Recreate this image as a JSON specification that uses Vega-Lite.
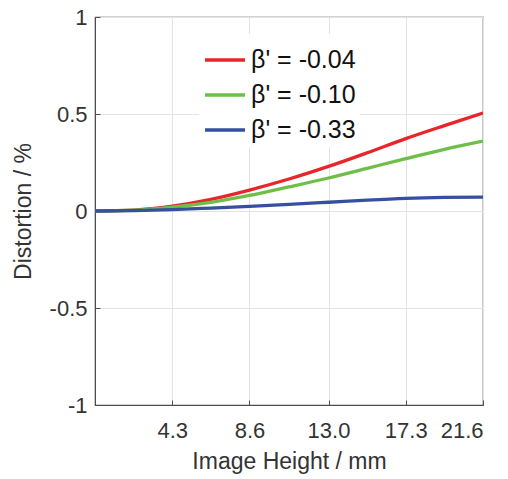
{
  "$schema": "https://vega.github.io/schema/vega-lite/v6.json",
  "width": 388,
  "height": 388,
  "autosize": {"type": "none"},
  "padding": {"left": 95, "top": 17, "right": 25, "bottom": 74},
  "background": "white",
  "config": {
    "font": "Liberation Sans",
    "view": {"stroke": "#4d4d4d", "strokeWidth": 1.2},
    "axis": {
      "domainColor": "#4d4d4d",
      "tickColor": "#4d4d4d",
      "gridColor": "#e3e3e3",
      "gridWidth": 1,
      "labelFont": "Liberation Sans",
      "titleFont": "Liberation Sans",
      "labelColor": "#333333",
      "titleColor": "#333333",
      "labelFontSize": 22,
      "titleFontSize": 23,
      "titleFontWeight": "normal",
      "tickSize": -5
    },
    "legend": {"labelFont": "Liberation Sans"}
  },
  "data": {
    "values": [
      {"x": 0, "y": 0, "beta": "β' = -0.04"},
      {"x": 2.15, "y": 0.005, "beta": "β' = -0.04"},
      {"x": 4.3, "y": 0.025, "beta": "β' = -0.04"},
      {"x": 6.45, "y": 0.06, "beta": "β' = -0.04"},
      {"x": 8.6, "y": 0.108, "beta": "β' = -0.04"},
      {"x": 10.8, "y": 0.165, "beta": "β' = -0.04"},
      {"x": 13.0, "y": 0.23, "beta": "β' = -0.04"},
      {"x": 15.15, "y": 0.30, "beta": "β' = -0.04"},
      {"x": 17.3, "y": 0.373, "beta": "β' = -0.04"},
      {"x": 19.45, "y": 0.44, "beta": "β' = -0.04"},
      {"x": 21.6, "y": 0.505, "beta": "β' = -0.04"},
      {"x": 0, "y": 0, "beta": "β' = -0.10"},
      {"x": 2.15, "y": 0.004, "beta": "β' = -0.10"},
      {"x": 4.3, "y": 0.02, "beta": "β' = -0.10"},
      {"x": 6.45, "y": 0.045, "beta": "β' = -0.10"},
      {"x": 8.6, "y": 0.08, "beta": "β' = -0.10"},
      {"x": 10.8, "y": 0.124, "beta": "β' = -0.10"},
      {"x": 13.0, "y": 0.17, "beta": "β' = -0.10"},
      {"x": 15.15, "y": 0.22, "beta": "β' = -0.10"},
      {"x": 17.3, "y": 0.27, "beta": "β' = -0.10"},
      {"x": 19.45, "y": 0.318, "beta": "β' = -0.10"},
      {"x": 21.6, "y": 0.36, "beta": "β' = -0.10"},
      {"x": 0, "y": 0, "beta": "β' = -0.33"},
      {"x": 2.15, "y": 0.002, "beta": "β' = -0.33"},
      {"x": 4.3, "y": 0.007, "beta": "β' = -0.33"},
      {"x": 6.45, "y": 0.015, "beta": "β' = -0.33"},
      {"x": 8.6, "y": 0.024, "beta": "β' = -0.33"},
      {"x": 10.8, "y": 0.034, "beta": "β' = -0.33"},
      {"x": 13.0, "y": 0.045, "beta": "β' = -0.33"},
      {"x": 15.15, "y": 0.056, "beta": "β' = -0.33"},
      {"x": 17.3, "y": 0.065, "beta": "β' = -0.33"},
      {"x": 19.45, "y": 0.07, "beta": "β' = -0.33"},
      {"x": 21.6, "y": 0.072, "beta": "β' = -0.33"}
    ]
  },
  "mark": {"type": "line", "strokeWidth": 3.3, "interpolate": "monotone", "clip": true},
  "encoding": {
    "x": {
      "field": "x",
      "type": "quantitative",
      "scale": {"domain": [0, 21.6], "nice": false, "zero": false},
      "axis": {
        "title": "Image Height / mm",
        "values": [4.3, 8.6, 13.0, 17.3, 21.6],
        "labelExpr": "format(datum.value, '.1f')",
        "labelPadding": 20,
        "titlePadding": 9
      }
    },
    "y": {
      "field": "y",
      "type": "quantitative",
      "scale": {"domain": [-1, 1], "nice": false},
      "axis": {
        "title": "Distortion / %",
        "values": [-1, -0.5, 0, 0.5, 1],
        "labelExpr": "'' + datum.value",
        "labelPadding": 13,
        "titlePadding": 14
      }
    },
    "color": {
      "field": "beta",
      "type": "nominal",
      "scale": {
        "domain": ["β' = -0.04", "β' = -0.10", "β' = -0.33"],
        "range": ["#e8262a", "#6dbf4a", "#36509f"]
      },
      "legend": {
        "title": null,
        "orient": "none",
        "legendX": 104,
        "legendY": 17,
        "fillColor": "white",
        "padding": 4,
        "symbolType": "stroke",
        "symbolSize": 1600,
        "symbolStrokeWidth": 3.3,
        "labelFontSize": 25,
        "labelColor": "#111111",
        "labelOffset": 4,
        "rowPadding": -3,
        "labelLimit": 300
      }
    }
  }
}
